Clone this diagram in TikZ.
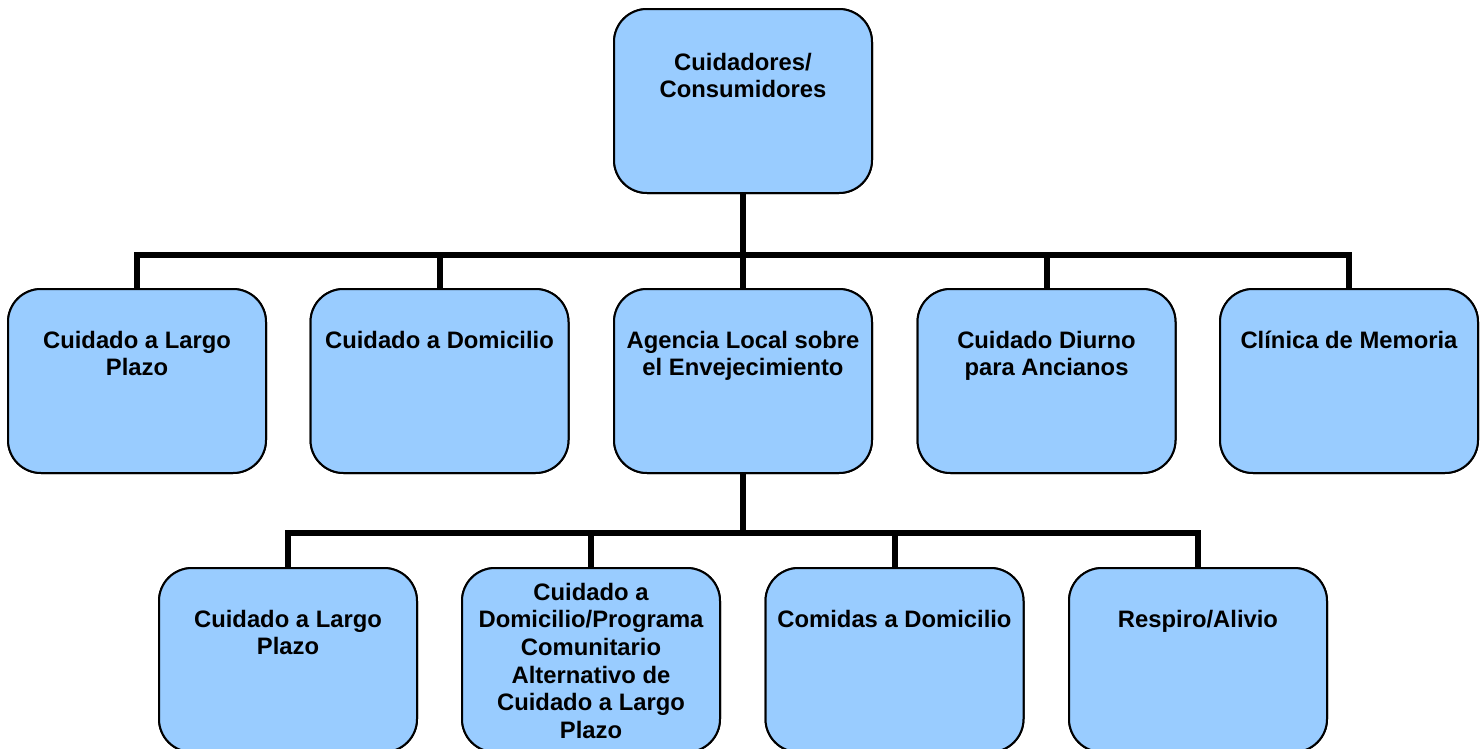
\documentclass[tikz,border=0pt]{standalone}
\usepackage{fontspec}
\setmainfont{Liberation Sans}
\definecolor{boxblue}{HTML}{99CCFF}
\tikzset{
  orgbox/.style={draw=black, line width=2pt, fill=boxblue, rounded corners=33pt,
    minimum width=258pt, minimum height=184pt, inner sep=0pt},
  orgtext/.style={anchor=base, align=center, inner sep=0pt,
    font=\fontsize{23.8}{27.7}\selectfont\bfseries},
  conn/.style={draw=black, line width=6pt, line join=miter}
}
\begin{document}
\begin{tikzpicture}[x=1pt,y=-1pt]
\useasboundingbox (0,0) rectangle (1484,748);
% junctions
\coordinate (j1) at (743,255);
\coordinate (j2) at (743,533);
% box positions
\node[orgbox] (top) at (743,101) {};
\node[orgbox] (a1) at (137,381) {};
\node[orgbox] (a2) at (439.5,381) {};
\node[orgbox] (a3) at (743,381) {};
\node[orgbox] (a4) at (1046.5,381) {};
\node[orgbox] (a5) at (1349,381) {};
\node[orgbox] (b1) at (288,660) {};
\node[orgbox] (b2) at (591,660) {};
\node[orgbox] (b3) at (894.5,660) {};
\node[orgbox] (b4) at (1198,660) {};
% connectors
\draw[conn] (top.south) -- (j1);
\draw[conn] (a1.north) |- (j1);
\draw[conn] (a2.north) |- (j1);
\draw[conn] (a3.north) -- (j1);
\draw[conn] (a4.north) |- (j1);
\draw[conn] (a5.north) |- (j1);
\draw[conn] (a3.south) -- (j2);
\draw[conn] (b1.north) |- (j2);
\draw[conn] (b2.north) |- (j2);
\draw[conn] (b3.north) |- (j2);
\draw[conn] (b4.north) |- (j2);
% boxes again, over the connector ends
\node[orgbox] at (top) {};
\node[orgbox] at (a1) {};
\node[orgbox] at (a2) {};
\node[orgbox] at (a3) {};
\node[orgbox] at (a4) {};
\node[orgbox] at (a5) {};
\node[orgbox] at (b1) {};
\node[orgbox] at (b2) {};
\node[orgbox] at (b3) {};
\node[orgbox] at (b4) {};
% texts (base anchor = baseline of last line)
\node[orgtext] (ttop) at ([yshift=-89.7pt]top.north) {Cuidadores/\\Consumidores};
\node[orgtext] (ta1) at ([yshift=-87.7pt]a1.north) {Cuidado a Largo\\Plazo};
\node[orgtext] (ta2) at ([yshift=-60pt]a2.north) {Cuidado a Domicilio};
\node[orgtext] (ta3) at ([yshift=-87.7pt]a3.north) {Agencia Local sobre\\el Envejecimiento};
\node[orgtext] (ta4) at ([yshift=-87.7pt]a4.north) {Cuidado Diurno\\para Ancianos};
\node[orgtext] (ta5) at ([yshift=-60pt]a5.north) {Clínica de Memoria};
\node[orgtext] (tb1) at ([yshift=-87.7pt]b1.north) {Cuidado a Largo\\Plazo};
\node[orgtext] (tb2) at ([yshift=-171.5pt]b2.north) {Cuidado a\\Domicilio/Programa\\Comunitario\\Alternativo de\\Cuidado a Largo\\Plazo};
\node[orgtext] (tb3) at ([yshift=-60pt]b3.north) {Comidas a Domicilio};
\node[orgtext] (tb4) at ([yshift=-60pt]b4.north) {Respiro/Alivio};
\end{tikzpicture}
\end{document}
